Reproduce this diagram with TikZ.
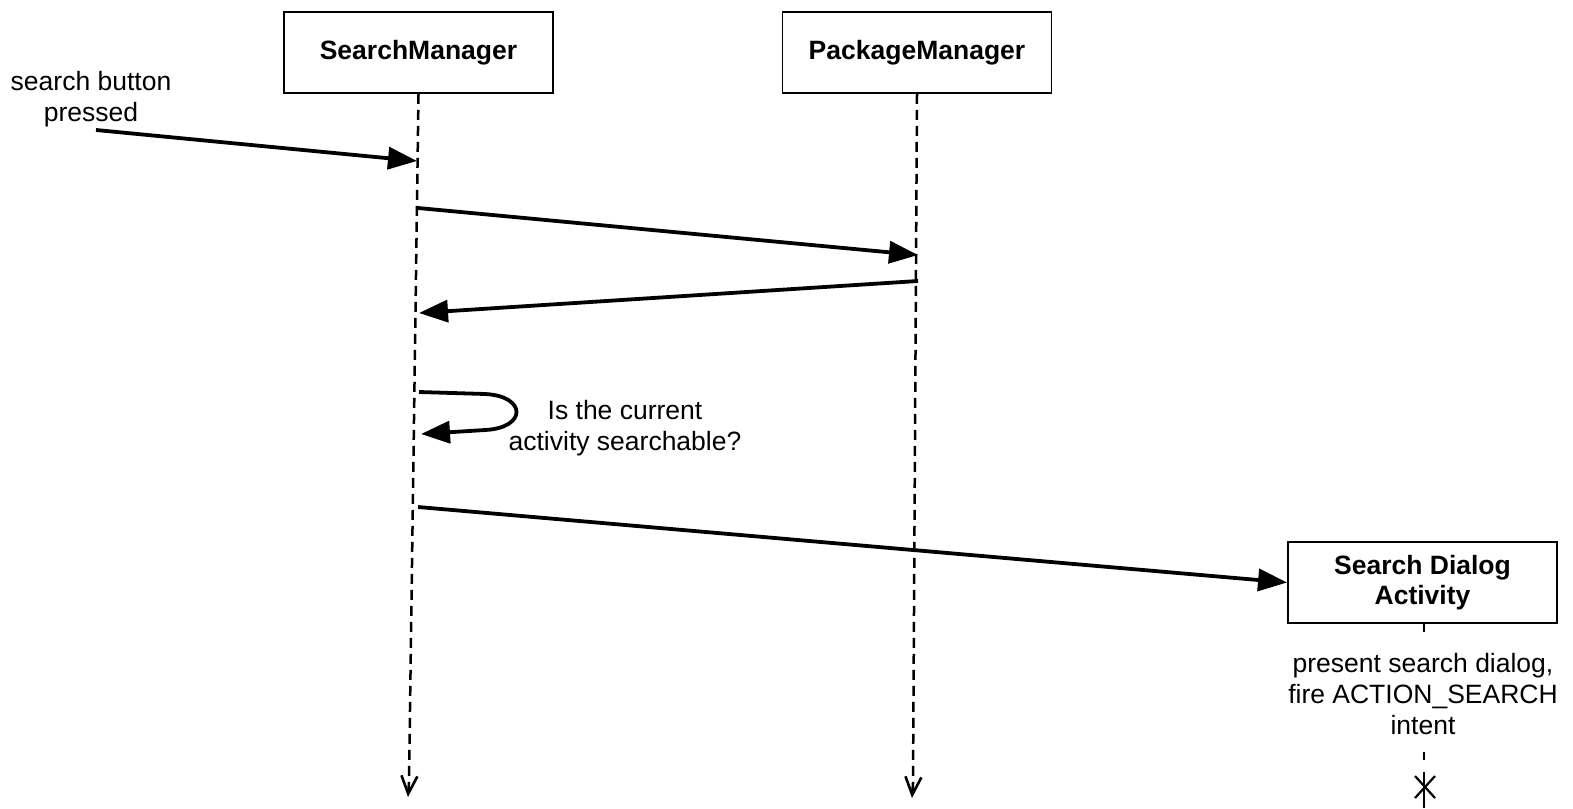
\documentclass[tikz,border=0pt]{standalone}
\usepackage{fontspec}
\setmainfont{Liberation Sans}
\usetikzlibrary{arrows.meta,calc}
\begin{document}
\begin{tikzpicture}[x=1pt,y=-1pt,
  actor/.style={draw, line width=1.9pt, minimum width=269pt, minimum height=81pt,
    inner sep=0pt, font=\fontsize{26.5}{30}\selectfont\bfseries, align=center},
  lbl/.style={font=\fontsize{26.5}{31}\selectfont, align=center, inner sep=0pt},
  lifeline/.style={line width=2.5pt, dash pattern=on 10pt off 6pt},
  lifeend/.style={line width=2.5pt, -{Straight Barb[length=18pt,width=16pt,line width=2.6pt]}},
  msg/.style={line width=3.8pt, -{Triangle[length=29pt,width=22pt]}}
]
\useasboundingbox (0,0) rectangle (1573,808);

% actors
\node[actor] (sm) at (418.5,52.5) {SearchManager};
\node[actor] (pm) at (917,52.5) {PackageManager};
\node[actor] (da) at (1422.5,582.5) {Search Dialog\\Activity};

% lifelines
\coordinate (smEnd) at (408,797);
\coordinate (pmEnd) at (912,798);
\coordinate (smDash) at (409,782);
\coordinate (pmDash) at (913,783);
\draw[lifeline] (sm.south) -- (smDash);
\draw[lifeend] (smDash) -- (smEnd);
\draw[lifeline] (pm.south) -- (pmDash);
\draw[lifeend] (pmDash) -- (pmEnd);

% activity lifeline fragments
\coordinate (daTick) at (1424,632);
\draw[line width=2.2pt] (1424,623) -- (daTick);
\coordinate (daD1) at (1424,752);
\coordinate (daD2) at (1424,760);
\draw[line width=2.5pt] (daD1) -- (daD2);
\coordinate (daS1) at (1424,772);
\coordinate (daS2) at (1424,808);
\draw[line width=2.2pt] (daS1) -- (daS2);
\coordinate (daX) at (1425,787);
\draw[line width=2.2pt] ($(daX)+(-10,-11)$) -- ($(daX)+(10,11)$);
\draw[line width=2.2pt] ($(daX)+(10,-11)$) -- ($(daX)+(-10,11)$);

% labels
\node[lbl] (btn) at (91,99) {search button\\pressed};
\node[lbl] (qry) at (625,428) {Is the current\\activity searchable?};
\node[lbl] (pres) at (1423,694) {present search dialog,\\fire ACTION\_SEARCH\\intent};

% messages
\coordinate (m1s) at (96,130);
\coordinate (m1e) at (417,161);
\draw[msg] (m1s) -- (m1e);

\coordinate (m2s) at (418,208);
\coordinate (m2e) at (918,255);
\draw[msg] (m2s) -- (m2e);

\coordinate (m3s) at (918,281);
\coordinate (m3e) at (419,313);
\draw[msg] (m3s) -- (m3e);

\coordinate (m4s) at (419,392);
\coordinate (m4e) at (421,434);
\draw[msg] (m4s) -- (485,394) .. controls (527,396) and (527,428) .. (485,430) -- (m4e);

\coordinate (m5s) at (418,507);
\draw[msg] (m5s) -- (da.west);
\end{tikzpicture}
\end{document}
